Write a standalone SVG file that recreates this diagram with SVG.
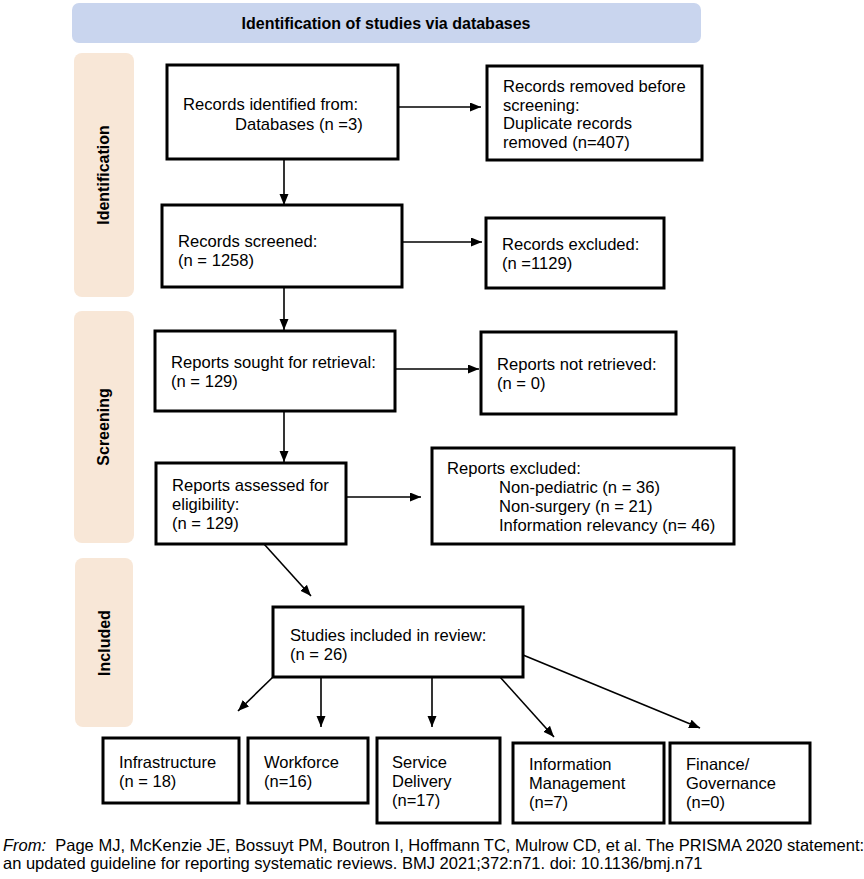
<svg xmlns="http://www.w3.org/2000/svg" width="864" height="879" viewBox="0 0 864 879">
<style>
text{font-family:"Liberation Sans",Arial,Helvetica,sans-serif;fill:#000}
.t{font-size:16.6px}
.b{font-size:16.5px}
.lab{font-size:16px;font-weight:bold}
.box{fill:#fff;stroke:#000;stroke-width:3}
.side{fill:#f8e7d7}
.ln{stroke:#000;stroke-width:1.6;fill:none;marker-end:url(#ah)}
</style>
<defs>
<marker id="ah" markerUnits="userSpaceOnUse" markerWidth="12" markerHeight="10" refX="11" refY="4.5" orient="auto">
<path d="M0,0 L11,4.5 L0,9 z" fill="#000"/>
</marker>
</defs>
<rect width="864" height="879" fill="#fff"/>

<g id="header">
<rect x="72" y="3" width="629" height="40" rx="7" fill="#c9d5ee"/>
<text class="lab" x="386" y="28.5" text-anchor="middle">Identification of studies via databases</text>
</g>

<g id="side-identification">
<rect class="side" x="74" y="53" width="60" height="244" rx="8"/>
<text class="lab" transform="translate(109,175) rotate(-90)" text-anchor="middle">Identification</text>
</g>
<g id="side-screening">
<rect class="side" x="74" y="311" width="60" height="232" rx="8"/>
<text class="lab" transform="translate(109,427) rotate(-90)" text-anchor="middle">Screening</text>
</g>
<g id="side-included">
<rect class="side" x="75" y="558" width="58" height="169" rx="8"/>
<text class="lab" transform="translate(110,643) rotate(-90)" text-anchor="middle">Included</text>
</g>

<g id="connectors">
<line class="ln" x1="398" y1="107" x2="481" y2="107"/>
<line class="ln" x1="284" y1="159" x2="284" y2="205"/>
<line class="ln" x1="402" y1="242" x2="482" y2="242"/>
<line class="ln" x1="284" y1="287" x2="284" y2="330"/>
<line class="ln" x1="395" y1="369" x2="479" y2="369"/>
<line class="ln" x1="284" y1="411" x2="284" y2="462"/>
<line class="ln" x1="346" y1="497" x2="421" y2="497"/>
<line class="ln" x1="264" y1="544" x2="311" y2="596"/>
<line class="ln" x1="273" y1="677" x2="238" y2="711"/>
<line class="ln" x1="321" y1="677" x2="321" y2="727"/>
<line class="ln" x1="432" y1="677" x2="432" y2="727"/>
<line class="ln" x1="500" y1="677" x2="554" y2="737"/>
<line class="ln" x1="523" y1="655" x2="700" y2="728"/>
</g>

<g id="n-identified">
<rect class="box" x="167" y="65" width="231" height="94"/>
<text class="t" x="183" y="110">Records identified from:</text>
<text class="t" x="235" y="130">Databases (n =3)</text>
</g>
<g id="n-removed">
<rect class="box" x="487" y="66" width="215" height="94"/>
<text class="t" x="503" y="92">Records removed before</text>
<text class="t" x="503" y="110.5">screening:</text>
<text class="t" x="503" y="129">Duplicate records</text>
<text class="t" x="503" y="147.5">removed (n=407)</text>
</g>
<g id="n-screened">
<rect class="box" x="162" y="205" width="240" height="82"/>
<text class="t" x="178" y="247">Records screened:</text>
<text class="t" x="178" y="266">(n = 1258)</text>
</g>
<g id="n-excluded">
<rect class="box" x="486" y="218" width="178" height="70"/>
<text class="t" x="502" y="250">Records excluded:</text>
<text class="t" x="502" y="269">(n =1129)</text>
</g>
<g id="n-sought">
<rect class="box" x="155" y="331" width="240" height="80"/>
<text class="t" x="171" y="368">Reports sought for retrieval:</text>
<text class="t" x="171" y="387">(n = 129)</text>
</g>
<g id="n-notretrieved">
<rect class="box" x="481" y="332" width="195" height="82"/>
<text class="t" x="497" y="370">Reports not retrieved:</text>
<text class="t" x="497" y="389">(n = 0)</text>
</g>
<g id="n-assessed">
<rect class="box" x="156" y="463" width="190" height="81"/>
<text class="t" x="172" y="491">Reports assessed for</text>
<text class="t" x="172" y="510">eligibility:</text>
<text class="t" x="172" y="529">(n = 129)</text>
</g>
<g id="n-repexcluded">
<rect class="box" x="432" y="448" width="302" height="96"/>
<text class="t" x="447" y="474">Reports excluded:</text>
<text class="t" x="499" y="493">Non-pediatric (n = 36)</text>
<text class="t" x="499" y="512">Non-surgery (n = 21)</text>
<text class="t" x="499" y="531">Information relevancy (n= 46)</text>
</g>
<g id="n-included">
<rect class="box" x="273" y="607" width="250" height="70"/>
<text class="t" x="290" y="641">Studies included in review:</text>
<text class="t" x="290" y="660">(n = 26)</text>
</g>
<g id="n-infrastructure">
<rect class="box" x="103" y="738" width="136" height="65"/>
<text class="b" x="119" y="768">Infrastructure</text>
<text class="b" x="119" y="787">(n = 18)</text>
</g>
<g id="n-workforce">
<rect class="box" x="248" y="738" width="120" height="65"/>
<text class="b" x="264" y="768">Workforce</text>
<text class="b" x="264" y="787">(n=16)</text>
</g>
<g id="n-service">
<rect class="box" x="377" y="738" width="123" height="85"/>
<text class="b" x="392" y="768">Service</text>
<text class="b" x="392" y="787">Delivery</text>
<text class="b" x="392" y="806">(n=17)</text>
</g>
<g id="n-information">
<rect class="box" x="513" y="743" width="151" height="80"/>
<text class="b" x="529" y="770">Information</text>
<text class="b" x="529" y="789">Management</text>
<text class="b" x="529" y="808">(n=7)</text>
</g>
<g id="n-finance">
<rect class="box" x="670" y="743" width="140" height="80"/>
<text class="b" x="686" y="770">Finance/</text>
<text class="b" x="686" y="789">Governance</text>
<text class="b" x="686" y="808">(n=0)</text>
</g>

<g id="footer">
<text class="b" x="3" y="851" xml:space="preserve"><tspan font-style="italic">From:</tspan>  Page MJ, McKenzie JE, Bossuyt PM, Boutron I, Hoffmann TC, Mulrow CD, et al. The PRISMA 2020 statement:</text>
<text class="b" x="3" y="869">an updated guideline for reporting systematic reviews. BMJ 2021;372:n71. doi: 10.1136/bmj.n71</text>
</g>
</svg>
